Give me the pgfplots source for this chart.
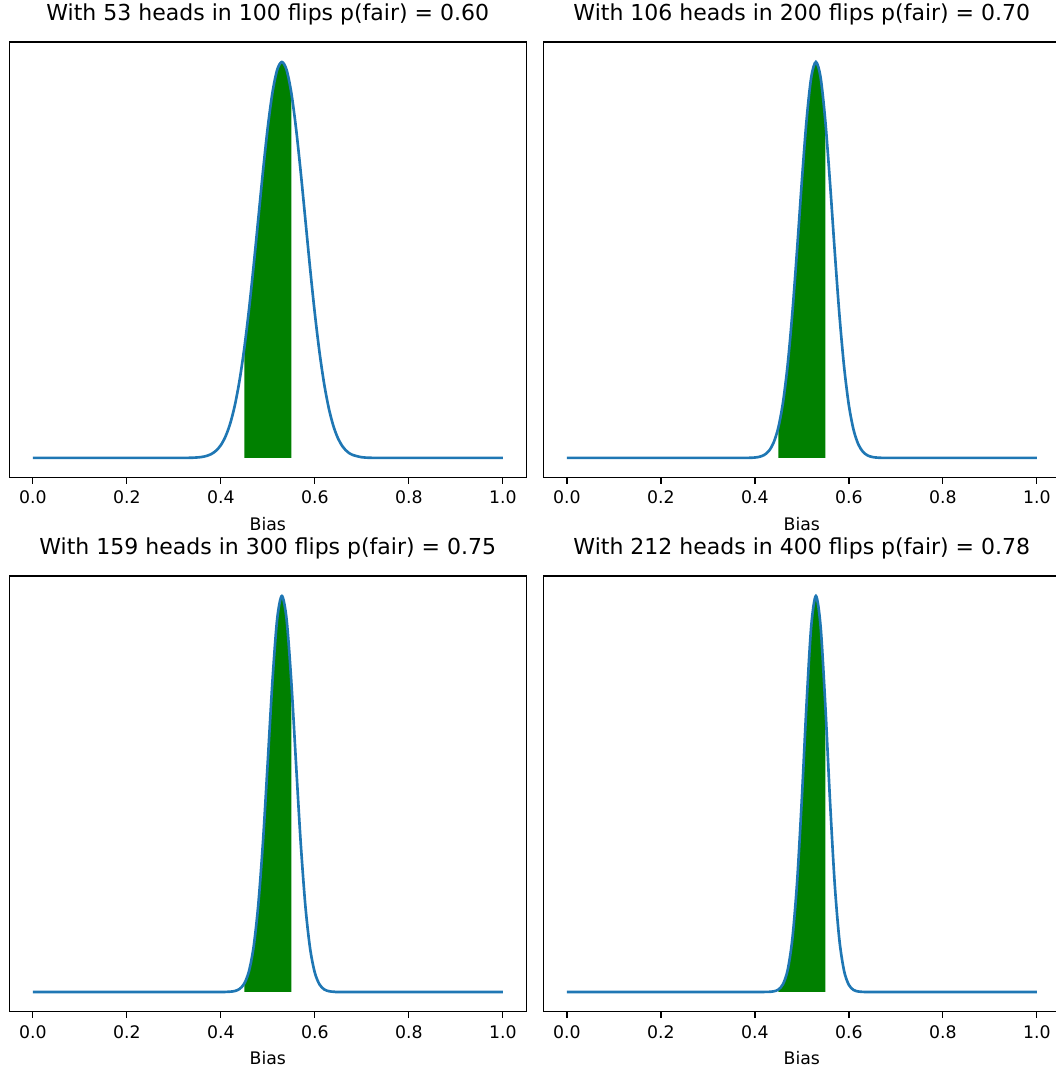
\documentclass[border=0pt]{standalone}
\usepackage{fontspec}
\setmainfont{DejaVu Sans}
\usepackage{pgfplots}
\pgfplotsset{compat=1.18}
\definecolor{mplblue}{HTML}{1F77B4}
\definecolor{mplgreen}{HTML}{008000}
\pgfplotsset{
  panel/.style={
    scale only axis, width=372.2bp, height=313.6bp, anchor=south west,
    xmin=-0.05, xmax=1.05, ymin=-0.05, ymax=1.05,
    xtick={0,0.2,0.4,0.6,0.8,1.0},
    xticklabels={0.0,0.2,0.4,0.6,0.8,1.0},
    ytick=\empty,
    tick align=outside, xtick pos=bottom,
    major tick length=4.3bp,
    every tick/.style={black, line width=1bp},
    axis line style={line width=1bp},
    xticklabel style={font=\fontsize{12.5}{15}\selectfont, anchor=base, yshift=-14.6bp},
    xlabel={Bias},
    xlabel style={font=\fontsize{12.5}{15}\selectfont, at={(0.5,0)}, anchor=base, yshift=-38.1bp},
    title style={font=\fontsize{15.9}{18}\selectfont, at={(0.5,1)}, anchor=base, yshift=9.3bp},
    /pgf/number format/assume math mode=true,
  },
  curve/.style={mplblue, line width=1.9bp, smooth, no marks},
  area/.style={fill=mplgreen, draw=none, smooth, no marks},
}
\begin{document}
\begin{tikzpicture}
\useasboundingbox (0,0) rectangle (759.6bp,768.96bp);
% Top left
\begin{axis}[panel, at={(6.7bp,425.0bp)}, title={With 53 heads in 100 flips p(fair) = 0.60}]
\addplot[area] coordinates {(0.45,0.2767) (0.46,0.3745) (0.47,0.4863) (0.48,0.6064) (0.49,0.7261) (0.50,0.8352) (0.51,0.9229) (0.52,0.9802) (0.53,1) (0.54,0.9801) (0.55,0.9226)} \closedcycle;
\addplot[curve] coordinates {(0,0) (0.30,0.0000) (0.33,0.0002) (0.34,0.0005) (0.35,0.0012) (0.36,0.0025) (0.37,0.0051) (0.38,0.0099) (0.39,0.0183) (0.40,0.0321) (0.41,0.0540) (0.42,0.0867) (0.43,0.1332) (0.44,0.1962) (0.45,0.2767) (0.46,0.3745) (0.47,0.4863) (0.48,0.6064) (0.49,0.7261) (0.50,0.8352) (0.51,0.9229) (0.52,0.9802) (0.53,1) (0.54,0.9801) (0.55,0.9226) (0.56,0.8337) (0.57,0.7230) (0.58,0.6014) (0.59,0.4795) (0.60,0.3661) (0.61,0.2675) (0.62,0.1868) (0.63,0.1245) (0.64,0.0792) (0.65,0.0479) (0.66,0.0276) (0.67,0.0150) (0.68,0.0078) (0.70,0.0017) (0.72,0.0003) (0.75,0) (1,0)};
\end{axis}
% Top right
\begin{axis}[panel, at={(391.2bp,425.0bp)}, title={With 106 heads in 200 flips p(fair) = 0.70}]
\addplot[area] coordinates {(0.45,0.0766) (0.46,0.1403) (0.47,0.2365) (0.48,0.3677) (0.49,0.5272) (0.50,0.6976) (0.51,0.8517) (0.52,0.9608) (0.53,1) (0.54,0.9606) (0.55,0.8512)} \closedcycle;
\addplot[curve] coordinates {(0,0) (0.35,0) (0.37,0.0000) (0.38,0.0001) (0.39,0.0003) (0.40,0.0010) (0.41,0.0029) (0.42,0.0075) (0.43,0.0177) (0.44,0.0385) (0.45,0.0766) (0.46,0.1403) (0.47,0.2365) (0.48,0.3677) (0.49,0.5272) (0.50,0.6976) (0.51,0.8517) (0.52,0.9608) (0.53,1) (0.54,0.9606) (0.55,0.8512) (0.56,0.6951) (0.57,0.5227) (0.58,0.3617) (0.59,0.2299) (0.60,0.1340) (0.61,0.0716) (0.62,0.0349) (0.63,0.0155) (0.64,0.0063) (0.65,0.0023) (0.66,0.0008) (0.67,0.0002) (0.68,0.0001) (0.70,0) (1,0)};
\end{axis}
% Bottom left
\begin{axis}[panel, at={(6.7bp,40.5bp)}, title={With 159 heads in 300 flips p(fair) = 0.75}]
\addplot[area] coordinates {(0.45,0.0212) (0.46,0.0525) (0.47,0.1150) (0.48,0.2230) (0.49,0.3828) (0.50,0.5826) (0.51,0.7861) (0.52,0.9418) (0.53,1) (0.54,0.9415) (0.55,0.7853)} \closedcycle;
\addplot[curve] coordinates {(0,0) (0.38,0) (0.40,0.0000) (0.41,0.0002) (0.42,0.0007) (0.43,0.0024) (0.44,0.0076) (0.45,0.0212) (0.46,0.0525) (0.47,0.1150) (0.48,0.2230) (0.49,0.3828) (0.50,0.5826) (0.51,0.7861) (0.52,0.9418) (0.53,1) (0.54,0.9415) (0.55,0.7853) (0.56,0.5795) (0.57,0.3779) (0.58,0.2175) (0.59,0.1102) (0.60,0.0491) (0.61,0.0191) (0.62,0.0065) (0.63,0.0019) (0.64,0.0005) (0.65,0.0001) (0.67,0) (1,0)};
\end{axis}
% Bottom right
\begin{axis}[panel, at={(391.2bp,40.5bp)}, title={With 212 heads in 400 flips p(fair) = 0.78}]
\addplot[area] coordinates {(0.45,0.0059) (0.46,0.0197) (0.47,0.0559) (0.48,0.1352) (0.49,0.2779) (0.50,0.4866) (0.51,0.7254) (0.52,0.9231) (0.53,1) (0.54,0.9228) (0.55,0.7245)} \closedcycle;
\addplot[curve] coordinates {(0,0) (0.39,0) (0.41,0.0000) (0.42,0.0001) (0.43,0.0003) (0.44,0.0015) (0.45,0.0059) (0.46,0.0197) (0.47,0.0559) (0.48,0.1352) (0.49,0.2779) (0.50,0.4866) (0.51,0.7254) (0.52,0.9231) (0.53,1) (0.54,0.9228) (0.55,0.7245) (0.56,0.4832) (0.57,0.2732) (0.58,0.1308) (0.59,0.0529) (0.60,0.0180) (0.61,0.0051) (0.62,0.0012) (0.63,0.0002) (0.64,0) (0.66,0) (1,0)};
\end{axis}
\end{tikzpicture}
\end{document}
